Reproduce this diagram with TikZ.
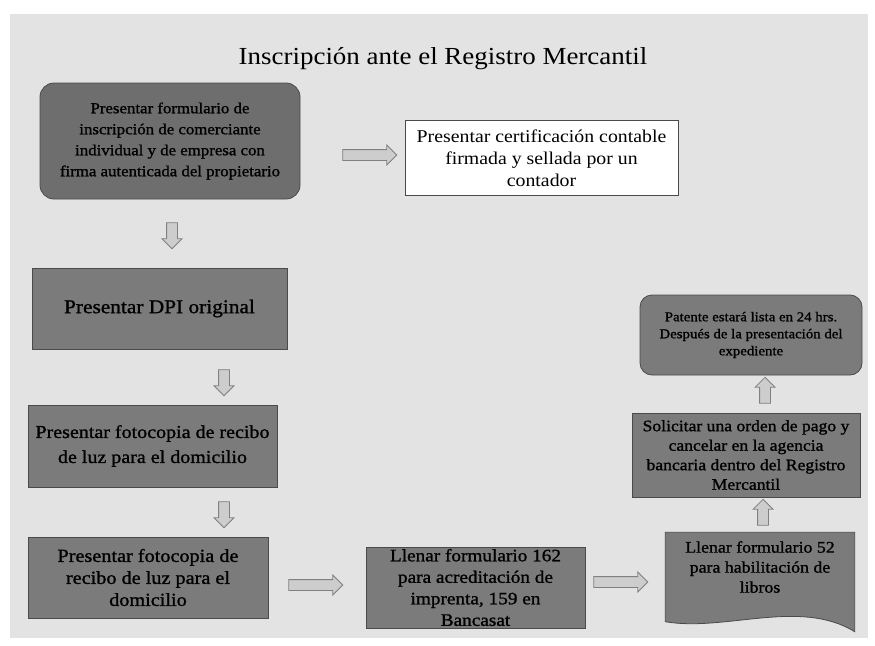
\documentclass[tikz,border=0pt]{standalone}
\usepackage{fontspec}
\setmainfont[FakeStretch=1.1]{Liberation Serif}
\newfontfamily\heavyserif[FakeStretch=1.1,FakeBold=1.2]{Liberation Serif}
\usetikzlibrary{shapes.arrows,calc}
\definecolor{pagebg}{HTML}{E3E3E3}
\definecolor{boxfill}{HTML}{7B7B7B}
\definecolor{boxfilldark}{HTML}{6E6E6E}
\definecolor{boxline}{HTML}{4A4A4A}
\definecolor{arrfill}{HTML}{CDCDCD}
\definecolor{arrline}{HTML}{808080}
\tikzset{
  darkbox/.style={draw=boxline, line width=0.8pt, fill=boxfill, align=center, inner sep=2pt, text=black},
  whitebox/.style={draw=boxline, line width=0.8pt, fill=white, align=center, inner sep=2pt, text=black},
  blockarrow/.style={single arrow, draw=arrline, fill=arrfill, line width=0.8pt, inner sep=5pt,
     single arrow head extend=4.5pt},
  harrow/.style={blockarrow, minimum height=54pt},
  varrow/.style={blockarrow, minimum height=26pt}
}
\newcommand{\fs}[2]{\fontsize{#1}{#2}\selectfont}
\begin{document}
\begin{tikzpicture}[x=1pt,y=-1pt]
\useasboundingbox (0,0) rectangle (875,645);
\fill[white] (0,0) rectangle (875,645);
\fill[pagebg] (10,14) rectangle (868,638);

\node[text=black, font=\fs{24.5}{28}] (title) at (443,59) {Inscripción ante el Registro Mercantil};

\node[darkbox, fill=boxfilldark, rounded corners=14pt, minimum width=260pt, minimum height=116pt, font=\heavyserif\fs{15.3}{21}]
  (b1) at (170,141) {Presentar formulario de\\inscripción de comerciante\\individual y de empresa con\\firma autenticada del propietario};
\node[whitebox, minimum width=273pt, minimum height=75pt, font=\fs{18}{22}]
  (b2) at (541.5,158) {Presentar certificación contable\\firmada y sellada por un\\contador};
\node[darkbox, minimum width=255pt, minimum height=81pt, font=\heavyserif\fs{19.4}{22}]
  (b3) at (159.5,308.5) {Presentar DPI original};
\node[darkbox, minimum width=249pt, minimum height=82pt, font=\heavyserif\fs{18.2}{25}]
  (b4) at (152.5,446) {Presentar fotocopia de recibo\\de luz para el domicilio};
\node[darkbox, minimum width=240pt, minimum height=81pt, font=\heavyserif\fs{18.4}{22}]
  (b5) at (148,577.5) {Presentar fotocopia de\\recibo de luz para el\\domicilio};
\node[darkbox, minimum width=219pt, minimum height=79pt, font=\heavyserif\fs{17.5}{21.5}]
  (b6) at (475.5,587.5) {Llenar formulario 162\\para acreditación de\\imprenta, 159 en\\Bancasat};
% document shape
\node[minimum width=189pt, minimum height=87pt, inner sep=0pt] (b7) at (760,576) {};
\filldraw[draw=boxline, fill=boxfill, line width=0.8pt]
  (b7.north west) -- (b7.north east) -- ([yshift=-12pt]b7.south east)
  .. controls (800,598) and (725,632) .. ([yshift=-2pt]b7.south west) -- cycle;
\node[align=center, font=\heavyserif\fs{16.2}{20}] (b7t) at (760,567) {Llenar formulario 52\\para habilitación de\\libros};
\node[darkbox, minimum width=228pt, minimum height=84pt, font=\heavyserif\fs{16}{19.5}]
  (b8) at (746,455) {Solicitar una orden de pago y\\cancelar en la agencia\\bancaria dentro del Registro\\Mercantil};
\node[darkbox, rounded corners=12pt, minimum width=222pt, minimum height=80pt, font=\heavyserif\fs{13.5}{17}]
  (b9) at (751,335) {Patente estará lista en 24 hrs.\\Después de la presentación del\\expediente};

% block arrows
\node[harrow] (a1) at (367,155) {};
\node[varrow, shape border rotate=270] (a2) at (172,233) {};
\node[varrow, shape border rotate=270] (a3) at (224,380) {};
\node[varrow, shape border rotate=270] (a4) at (224,512) {};
\node[harrow] (a5) at (313,585) {};
\node[harrow] (a6) at (618,582) {};
\node[varrow, shape border rotate=90] (a7) at (763,515) {};
\node[varrow, shape border rotate=90] (a8) at (765,393) {};
\end{tikzpicture}
\end{document}
